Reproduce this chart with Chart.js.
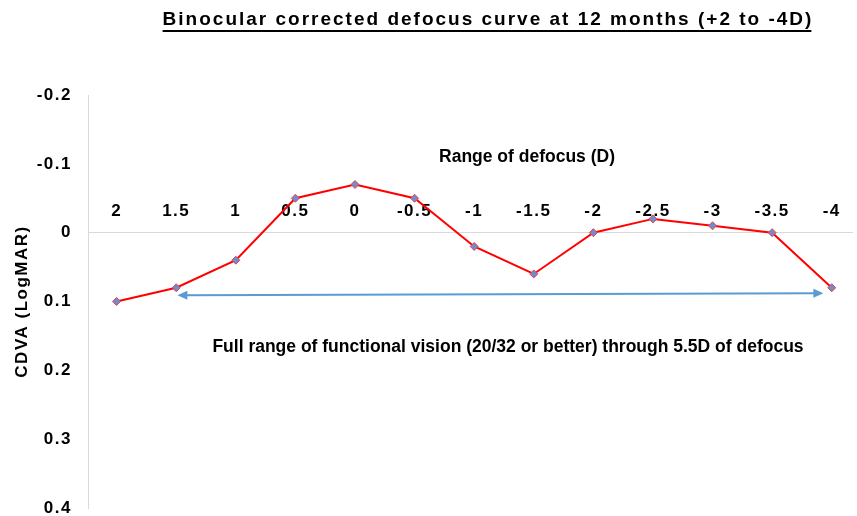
<!DOCTYPE html>
<html>
<head>
<meta charset="utf-8">
<script src="https://cdn.jsdelivr.net/npm/chart.js@4.4.1/dist/chart.umd.min.js"></script>
<style>
    html, body { margin: 0; padding: 0; background: #fff; }
    #wrap { width: 857px; height: 516px; }
</style>
</head>
<body>
<div id="wrap"><canvas id="defocusChart"></canvas></div>
<script>
// defocus (D) and CDVA (LogMAR)
const defocus = [2, 1.5, 1, 0.5, 0, -0.5, -1, -1.5, -2, -2.5, -3, -3.5, -4];
const cdva = [0.10, 0.08, 0.04, -0.05, -0.07, -0.05, 0.02, 0.06, 0.00, -0.02, -0.01, 0.00, 0.08];
const yTicks = [-0.2, -0.1, 0, 0.1, 0.2, 0.3, 0.4];

// blue arrow: from the +1.5D point to the -4D point
const arrowFrom = { x: 1.49, y: 0.091 };
const arrowTo = { x: -3.93, y: 0.088 };

const chartTitle = 'Binocular corrected defocus curve at 12 months (+2 to -4D)';
const rangeLabel = 'Range of defocus (D)';
const arrowLabel = 'Full range of functional vision (20/32 or better) through 5.5D of defocus';

const FONT = 'Arial, "Liberation Sans", sans-serif';

// the Excel figure has its axis text slightly spaced out
const spacing = {
    id: 'spacing',
    beforeUpdate(chart) { chart.ctx.letterSpacing = '1.5px'; },
    beforeDraw(chart) { chart.ctx.letterSpacing = '1.5px'; }
};

const annotations = {
    id: 'annotations',
    afterDraw(chart) {
        const ctx = chart.ctx;
        const x = chart.scales.x;
        const y = chart.scales.y;
        ctx.save();

        // title with underline
        ctx.letterSpacing = '2px';
        ctx.font = 'bold 19px ' + FONT;
        ctx.fillStyle = '#000';
        ctx.textAlign = 'left';
        ctx.textBaseline = 'middle';
        const w = ctx.measureText(chartTitle).width;
        const tx = 488 - w / 2, ty = 20;
        ctx.fillText(chartTitle, tx, ty);
        ctx.fillRect(tx, ty + 10, w - 2, 2);

        // labels inside the plot
        ctx.letterSpacing = '0px';
        ctx.textAlign = 'center';
        ctx.font = 'bold 17.5px ' + FONT;
        ctx.fillText(rangeLabel, 527, 157);
        ctx.fillText(arrowLabel, 508, 347);

        // double headed arrow
        const x1 = x.getPixelForValue(arrowFrom.x), y1 = y.getPixelForValue(arrowFrom.y);
        const x2 = x.getPixelForValue(arrowTo.x), y2 = y.getPixelForValue(arrowTo.y);
        ctx.strokeStyle = '#5b9bd5';
        ctx.fillStyle = '#5b9bd5';
        ctx.lineWidth = 2;
        ctx.beginPath();
        ctx.moveTo(x1 + 6, y1);
        ctx.lineTo(x2 - 6, y2);
        ctx.stroke();
        const head = (px, py, dir) => {
            ctx.beginPath();
            ctx.moveTo(px, py);
            ctx.lineTo(px + dir * 10, py - 4.5);
            ctx.lineTo(px + dir * 10, py + 4.5);
            ctx.closePath();
            ctx.fill();
        };
        head(x1, y1, 1);
        head(x2, y2, -1);
        ctx.restore();
    }
};

new Chart(document.getElementById('defocusChart'), {
    type: 'line',
    data: {
        datasets: [{
            label: 'CDVA',
            data: defocus.map((d, i) => ({ x: d, y: cdva[i] })),
            borderColor: '#ff0000',
            borderWidth: 2,
            pointStyle: 'rectRot',
            pointRadius: 4,
            pointBackgroundColor: '#6f8ccc',
            pointBorderColor: '#e8404a',
            pointBorderWidth: 1,
            tension: 0
        }]
    },
    options: {
        responsive: true,
        maintainAspectRatio: false,
        animation: false,
        layout: {
            padding: { top: 95, right: 0, bottom: 8, left: 0 }
        },
        scales: {
            x: {
                type: 'linear',
                reverse: true,
                min: -4.17,
                max: 2.24,
                position: { y: 0 },
                afterBuildTicks: axis => {
                    axis.ticks = defocus.map(v => ({ value: v }));
                },
                afterFit: axis => {
                    axis.height = 0;
                    axis.paddingTop = 0;
                    axis.paddingBottom = 0;
                },
                grid: { display: false, drawTicks: false },
                border: { color: '#d9d9d9', width: 1 },
                ticks: {
                    autoSkip: false,
                    maxRotation: 0,
                    padding: -32,
                    color: '#000',
                    font: { family: FONT, size: 17, weight: 'bold' },
                    callback: v => String(v)
                }
            },
            y: {
                reverse: true,
                min: -0.2,
                max: 0.4,
                afterBuildTicks: axis => {
                    axis.ticks = yTicks.map(v => ({ value: v }));
                },
                afterFit: axis => {
                    axis.width = 88;
                    axis.paddingTop = 0;
                    axis.paddingBottom = 0;
                },
                grid: { display: false, drawTicks: false },
                border: { color: '#d9d9d9', width: 1 },
                title: {
                    display: true,
                    text: 'CDVA (LogMAR)',
                    color: '#000',
                    font: { family: FONT, size: 17, weight: 'bold' },
                    padding: { top: 12, bottom: 0 }
                },
                ticks: {
                    padding: 16,
                    color: '#000',
                    font: { family: FONT, size: 17, weight: 'bold' },
                    callback: v => String(Math.round(v * 10) / 10)
                }
            }
        },
        plugins: {
            legend: { display: false },
            tooltip: { enabled: false }
        }
    },
    plugins: [spacing, annotations]
});
</script>
</body>
</html>
